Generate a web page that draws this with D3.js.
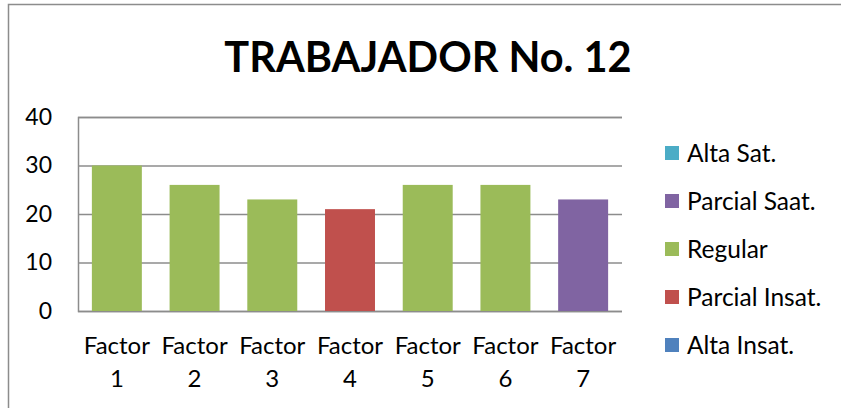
<!DOCTYPE html>
<html>
<head>
<meta charset="utf-8">
<title>TRABAJADOR No. 12</title>
<script src="https://cdn.jsdelivr.net/npm/d3@7"></script>
<style>
  html, body { margin: 0; padding: 0; background: #fff; }
  svg { display: block; font-family: Lato, "Open Sans", sans-serif; }
</style>
</head>
<body>
<div id="app"></div>
<script>
// datos del gráfico
var categories = ["Factor 1", "Factor 2", "Factor 3", "Factor 4", "Factor 5", "Factor 6", "Factor 7"];
var values = [30, 26, 23, 21, 26, 26, 23];
var levels = ["Regular", "Regular", "Regular", "Parcial Insat.", "Regular", "Regular", "Parcial Saat."];
var legendNames = ["Alta Sat.", "Parcial Saat.", "Regular", "Parcial Insat.", "Alta Insat."];
var legendColors = ["#4bacc6", "#8064a2", "#9bbb59", "#c0504d", "#4f81bd"];
var yTicks = [0, 10, 20, 30, 40];

!function () {
  var w = 841, h = 408;
  var plot = { left: 78, right: 622, top: 117, bottom: 311 };

  var svg = d3.select("#app").append("svg").attr("width", w).attr("height", h);

  // borde del área del gráfico
  svg.append("rect")
    .attr("x", 8.5).attr("y", 4.5)
    .attr("width", 900).attr("height", 500)
    .attr("fill", "#fff").attr("stroke", "#8c8c8c").attr("stroke-width", 1.5);

  // título
  svg.append("text")
    .attr("x", 428).attr("y", 72)
    .attr("text-anchor", "middle")
    .attr("font-weight", "bold")
    .attr("font-size", 41.5)
    .attr("fill", "#000")
    .text("TRABAJADOR No. 12");

  var color = d3.scaleOrdinal().domain(legendNames).range(legendColors);

  var x = d3.scaleBand()
    .domain(categories)
    .range([plot.left, plot.right])
    .paddingInner(0.357)
    .paddingOuter(0.1785);

  var y = d3.scaleLinear().domain([0, 40]).range([plot.bottom, plot.top]);

  // líneas de división
  var yAxis = d3.axisLeft(y).tickValues(yTicks).tickSize(-(plot.right - plot.left)).tickPadding(26);
  var gy = svg.append("g").attr("transform", "translate(" + plot.left + ",0)").call(yAxis);
  gy.select(".domain").attr("stroke", "#8c8c8c").attr("stroke-width", 1.5);
  gy.selectAll(".tick line").attr("stroke", "#8c8c8c").attr("stroke-width", 1.5);
  gy.selectAll(".tick text")
    .attr("font-family", "Lato, sans-serif")
    .attr("font-size", 23)
    .attr("fill", "#000");

  // barras
  svg.selectAll("rect.bar")
    .data(values)
    .enter()
    .append("rect")
    .attr("class", "bar")
    .attr("x", function (d, i) { return x(categories[i]); })
    .attr("y", function (d) { return y(d); })
    .attr("width", x.bandwidth())
    .attr("height", function (d) { return y(0) - y(d); })
    .attr("fill", function (d, i) { return color(levels[i]); });

  // etiquetas del eje x (en dos líneas)
  var xl = svg.selectAll("text.xlab")
    .data(categories)
    .enter()
    .append("text")
    .attr("class", "xlab")
    .attr("text-anchor", "middle")
    .attr("font-size", 24)
    .attr("fill", "#000");
  xl.each(function (d) {
    var parts = d.split(" ");
    var t = d3.select(this);
    var cx = x(d) + x.bandwidth() / 2;
    parts.forEach(function (p, j) {
      t.append("tspan").attr("x", cx).attr("y", 354 + j * 33).text(p);
    });
  });

  // leyenda
  var lg = svg.selectAll("g.legend")
    .data(legendNames)
    .enter()
    .append("g")
    .attr("class", "legend")
    .attr("transform", function (d, i) { return "translate(665," + (153 + i * 48) + ")"; });
  lg.append("rect")
    .attr("x", 0).attr("y", -7)
    .attr("width", 14).attr("height", 14)
    .attr("fill", function (d) { return color(d); });
  lg.append("text")
    .attr("x", 22).attr("y", 0)
    .attr("dy", "0.36em")
    .attr("font-size", 24.5)
    .attr("fill", "#000")
    .text(function (d) { return d; });
}();
</script>
</body>
</html>
